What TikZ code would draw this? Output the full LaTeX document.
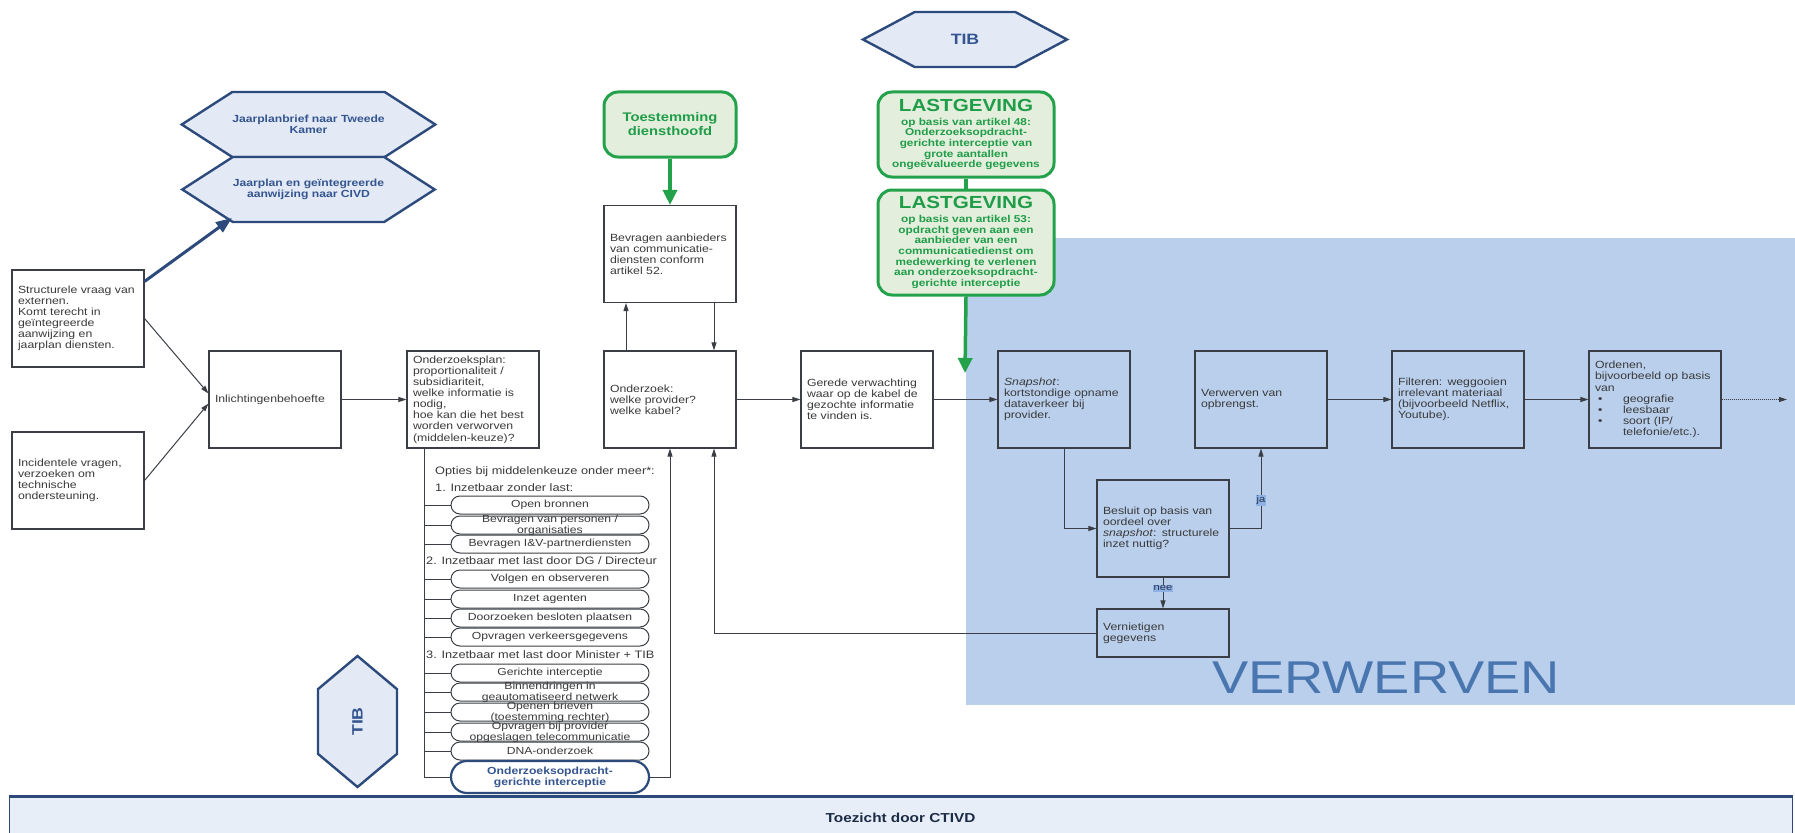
\documentclass[tikz,border=0pt]{standalone}
\usepackage{fontspec}
\setmainfont{Liberation Sans}[FakeStretch=1.18]
\usetikzlibrary{arrows.meta,shapes.symbols,calc}

\definecolor{txt}{HTML}{3A3A3A}
\definecolor{boxc}{HTML}{3B3F45}
\definecolor{hexf}{HTML}{E3EAF6}
\definecolor{hexd}{HTML}{2D4A7C}
\definecolor{hext}{HTML}{34558F}
\definecolor{gfill}{HTML}{E4EEDC}
\definecolor{gdraw}{HTML}{23A24B}
\definecolor{gtext}{HTML}{1F9D48}
\definecolor{region}{HTML}{B9CFEC}
\definecolor{verwc}{HTML}{4A76B0}
\definecolor{barf}{HTML}{E7EEF8}
\definecolor{bard}{HTML}{2B4A7A}
\definecolor{bart}{HTML}{1B2B45}
\definecolor{ynbg}{HTML}{8FB2E6}
\definecolor{ynt}{HTML}{2A3550}

\newcommand\lghead{{\fontsize{17.5}{17.5}\selectfont LASTGEVING}}

\begin{document}
\begin{tikzpicture}[x=1pt,y=-1pt,
  box/.style={draw=boxc, line width=1.1pt, text=txt, text width=120pt, align=left,
    inner xsep=6pt, inner ysep=2pt, minimum height=97pt,
    font=\fontsize{10.4}{11.1}\selectfont},
  hexa/.style={shape=signal, signal to=east and west, draw=hexd, fill=hexf,
    line width=2.4pt, text=hext, align=center, inner sep=0pt,
    font=\bfseries\fontsize{10.3}{11}\selectfont},
  gbox/.style={draw=gdraw, fill=gfill, line width=3pt, rounded corners=14pt,
    text=gtext, align=center, inner sep=2pt,
    font=\bfseries\fontsize{10}{10.7}\selectfont},
  pill/.style={draw=boxc, line width=1pt, fill=white, rounded corners=9pt,
    minimum width=198pt, minimum height=18pt, inner sep=0pt},
  pilltext/.style={text=txt, align=center, inner sep=0pt,
    font=\fontsize{10.3}{11}\selectfont},
  opt/.style={anchor=west, text=txt, inner sep=0pt, font=\fontsize{10.8}{11}\selectfont},
  arr/.style={draw=boxc, line width=1pt, -{Triangle[length=8pt,width=5pt]}},
  conn/.style={draw=boxc, line width=1pt},
  garr/.style={draw=gdraw, line width=3.5pt, -{Triangle[length=15pt,width=14pt]}},
  barr/.style={draw=hexd, line width=3pt, -{Triangle[length=16pt,width=12pt]}},
  yn/.style={fill=ynbg, text=ynt, inner sep=1pt, font=\fontsize{9.5}{10}\selectfont},
]
\clip (0,0) rectangle (1795,832);
\fill[white] (0,0) rectangle (1795,832);

% acquisition area
\fill[region] (966,238) rectangle (1795,705);
\node[anchor=base, inner sep=0pt, text=verwc, font=\fontsize{46}{46}\selectfont] (vw) at (1386,693) {VERWERVEN};

% hexagons
\node[hexa, minimum width=203pt, minimum height=65pt, signal pointer angle=65.5] (jp1) at (308.5,124.5) {Jaarplanbrief naar Tweede\\Kamer};
\node[hexa, minimum width=203pt, minimum height=65pt, signal pointer angle=65.5] (jp2) at (308.5,189.5) {Jaarplan en geïntegreerde\\aanwijzing naar CIVD};
\node[hexa, minimum width=204pt, minimum height=55pt, signal pointer angle=56,
  font=\bfseries\fontsize{15}{15}\selectfont] (tib) at (965,39.5) {TIB};
\node[hexa, rotate=90, minimum width=131pt, minimum height=79pt, signal pointer angle=100,
  font=\bfseries\fontsize{15}{15}\selectfont] (tibv) at (357.5,721.5) {TIB};

% green permissions
\node[gbox, minimum width=132pt, minimum height=65pt,
  font=\bfseries\fontsize{12.5}{14}\selectfont] (toe) at (670,124.5) {Toestemming\\diensthoofd};
\node[gbox, minimum width=176pt, minimum height=85pt] (lg1) at (966,134.5)
  {\lghead\\[3pt] op basis van artikel 48:\\ Onderzoeksopdracht-\\ gerichte interceptie van\\ grote aantallen\\ ongeëvalueerde gegevens};
\node[gbox, minimum width=176pt, minimum height=105pt] (lg2) at (966,242.5)
  {\lghead\\[3pt] op basis van artikel 53:\\ opdracht geven aan een\\ aanbieder van een\\ communicatiedienst om\\ medewerking te verlenen\\ aan onderzoeksopdracht-\\ gerichte interceptie};

% process boxes
\node[box] (s1) at (78,318.5) {Structurele vraag van\\ externen.\\ Komt terecht in\\ geïntegreerde\\ aanwijzing en\\ jaarplan diensten.};
\node[box] (s2) at (78,480.5) {Incidentele vragen,\\ verzoeken om\\ technische\\ ondersteuning.};
\node[box] (inl) at (275,399.5) {Inlichtingenbehoefte};
\node[box] (plan) at (473,399.5) {Onderzoeksplan:\\ proportionaliteit /\\ subsidiariteit,\\ welke informatie is\\ nodig,\\ hoe kan die het best\\ worden verworven\\ (middelen-keuze)?};
\node[box] (bev) at (670,254) {Bevragen aanbieders\\ van communicatie-\\ diensten conform\\ artikel 52.};
\node[box] (ond) at (670,399.5) {Onderzoek:\\ welke provider?\\ welke kabel?};
\node[box] (ger) at (867,399.5) {Gerede verwachting\\ waar op de kabel de\\ gezochte informatie\\ te vinden is.};
\node[box] (snap) at (1064,399.5) {\textit{Snapshot}:\\ kortstondige opname\\ dataverkeer bij\\ provider.};
\node[box] (verw) at (1261,399.5) {Verwerven van\\ opbrengst.};
\node[box] (filt) at (1458,399.5) {Filteren: weggooien\\ irrelevant materiaal\\ (bijvoorbeeld Netflix,\\ Youtube).};
\node[box] (ord) at (1655,399.5) {Ordenen,\\ bijvoorbeeld op basis\\ van\\
  \hspace*{3pt}\makebox[25pt][l]{•}geografie\\
  \hspace*{3pt}\makebox[25pt][l]{•}leesbaar\\
  \hspace*{3pt}\makebox[25pt][l]{•}soort (IP/\\
  \hspace*{28pt}telefonie/etc.).};
\node[box] (bes) at (1163,528.5) {Besluit op basis van\\ oordeel over\\ \textit{snapshot}: structurele\\ inzet nuttig?};
\node[box, minimum height=48pt] (ver) at (1163,633) {Vernietigen\\ gegevens};

% options for the choice of means
\node[opt] (oh) at (435,472) {Opties bij middelenkeuze onder meer*:};
\node[opt] (oh1) at (435,488) {1. Inzetbaar zonder last:};
\node[opt] (oh2) at (426,561) {2. Inzetbaar met last door DG / Directeur};
\node[opt] (oh3) at (426,655) {3. Inzetbaar met last door Minister + TIB};

\coordinate (lv) at (424,777);
\draw[conn] (plan.south west -| lv) -- (lv);

\foreach \n/\y in {o1/505,o2/525,o3/544,o4/579,o5/599,o6/618,o7/637,o8/673,o9/692,o10/712,o11/732,o12/751}{
  \node[pill] (\n) at (550,\y) {};
  \draw[conn] (\n.west -| lv) -- (\n.west);
}
\node[pill, minimum height=32pt, rounded corners=16pt, draw=hexd, line width=2.2pt] (o13) at (550,777) {};
\draw[conn] (o13.west -| lv) -- (o13.west);

\node[pilltext] at (o1) {Open bronnen};
\node[pilltext] at (o2) {Bevragen van personen /\\organisaties};
\node[pilltext] at (o3) {Bevragen I\&V-partnerdiensten};
\node[pilltext] at (o4) {Volgen en observeren};
\node[pilltext] at (o5) {Inzet agenten};
\node[pilltext] at (o6) {Doorzoeken besloten plaatsen};
\node[pilltext] at (o7) {Opvragen verkeersgegevens};
\node[pilltext] at (o8) {Gerichte interceptie};
\node[pilltext] at (o9) {Binnendringen in\\geautomatiseerd netwerk};
\node[pilltext] at (o10) {Openen brieven\\(toestemming rechter)};
\node[pilltext] at (o11) {Opvragen bij provider\\opgeslagen telecommunicatie};
\node[pilltext] at (o12) {DNA-onderzoek};
\node[pilltext, text=hext, font=\bfseries\fontsize{10.3}{11}\selectfont] at (o13) {Onderzoeksopdracht-\\gerichte interceptie};

% supervision bar
\node[draw=bard, fill=barf, line width=1pt, minimum width=1783pt, minimum height=42pt,
  text=bart, font=\bfseries\fontsize{13}{13}\selectfont] (ctivd) at (900.5,818) {Toezicht door CTIVD};
\draw[bard, line width=2.5pt] (ctivd.north west) -- (ctivd.north east);

% connectors
\coordinate (jtip) at (232,218);
\draw[barr] ([yshift=-12pt]s1.north east) -- (jtip);
\draw[arr] (s1.east) -- ([yshift=6pt]inl.west);
\draw[arr] (s2.east) -- ([yshift=-4pt]inl.west);
\draw[arr] (inl) -- (plan);
\draw[arr] (o13.east) -| (ond.south);
\draw[arr] ([xshift=-44pt]ond.north) -- ([xshift=-44pt]bev.south);
\draw[arr] ([xshift=44pt]bev.south) -- ([xshift=44pt]ond.north);
\draw[arr] (ond) -- (ger);
\draw[arr] (ger) -- (snap);
\draw[arr] (snap.south) |- (bes.west);
\draw[arr] (bes.east) -| node[pos=0.675, yn] {ja} (verw.south);
\draw[arr] (bes.south) -- node[pos=0.35, yn] {nee} (ver.north);
\draw[arr] (ver.west) -| ([xshift=44pt]ond.south);
\draw[arr] (verw) -- (filt);
\draw[arr] (filt) -- (ord);
\coordinate (tail) at (1787,399.5);
\draw[arr, densely dotted] (ord.east) -- (tail);

\draw[garr] (toe.south) -- (bev.north);
\draw[draw=gdraw, line width=3.5pt] (lg1.south) -- (lg2.north);
\coordinate (gtip) at (965,373);
\draw[garr] (lg2.south) -- (gtip);
\end{tikzpicture}
\end{document}
